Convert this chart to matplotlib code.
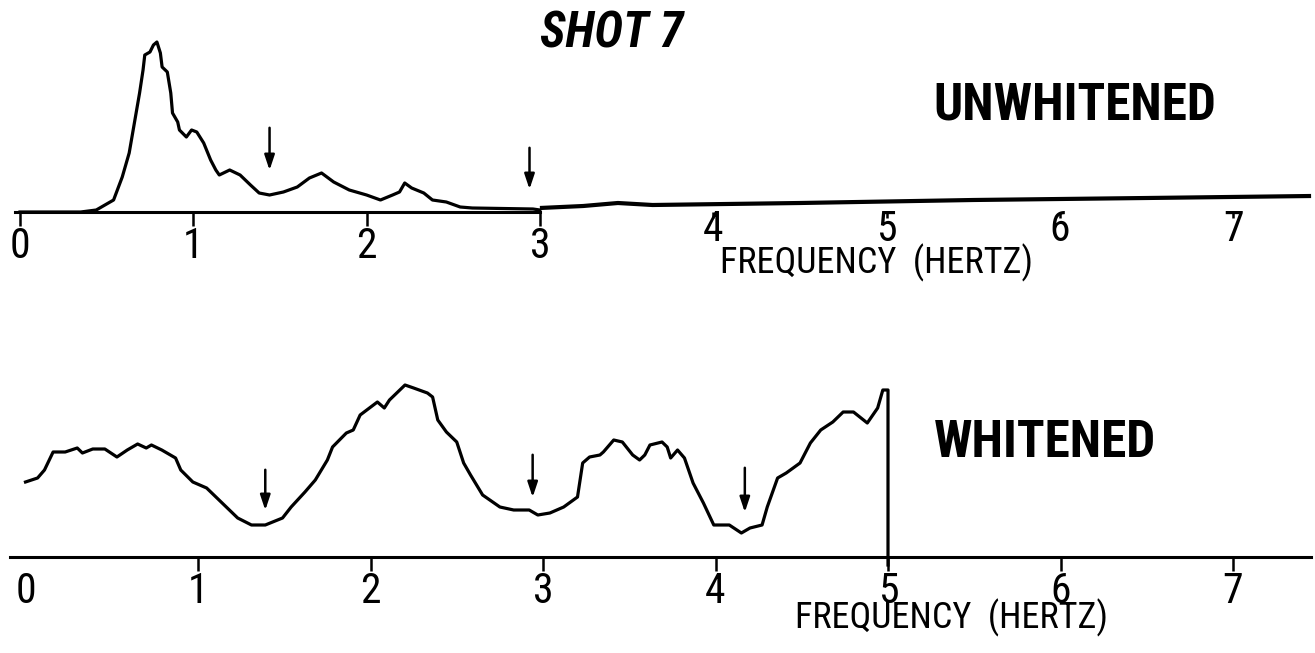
import matplotlib
matplotlib.use("Agg")
import matplotlib.pyplot as plt
from matplotlib import font_manager as fm

avail = {f.name for f in fm.fontManager.ttflist}
NARROW = next((n for n in ["Roboto Condensed", "Liberation Sans Narrow", "Archivo Narrow"] if n in avail), "Liberation Sans")

# ---------------- data ----------------
tick_values = [0, 1, 2, 3, 4, 5, 6, 7]
tick_labels = ["0", "1", "2", "3", "4", "5", "6", "7"]

# UNWHITENED spectrum (frequency in Hz, relative amplitude)
unw_freq = [0.00, 0.35, 0.44, 0.54, 0.59, 0.63, 0.66, 0.68, 0.69, 0.71, 0.72, 0.75, 0.77,
            0.79, 0.81, 0.82, 0.85, 0.87, 0.88, 0.91, 0.92, 0.96, 0.99, 1.02, 1.06, 1.10,
            1.13, 1.15, 1.21, 1.27, 1.33, 1.38, 1.44, 1.52, 1.60, 1.67, 1.74, 1.81, 1.90,
            2.00, 2.08, 2.15, 2.19, 2.22, 2.26, 2.33, 2.38, 2.46, 2.54, 2.61, 2.96, 3.00]
unw_amp = [0, 0, 2, 12, 35, 59, 89, 109, 119, 142, 157, 160, 167,
           170, 159, 145, 140, 119, 99, 90, 82, 75, 82, 80, 69, 52,
           42, 37, 42, 37, 27, 19, 17, 20, 25, 34, 39, 30, 22,
           17, 12, 17, 20, 29, 24, 19, 12, 10, 5, 4, 3, 2]
# recorder trace beyond the analysed band
tail_freq = [3.00, 3.25, 3.45, 3.65, 4.5, 5.5, 6.5, 7.45]
tail_amp = [4, 6, 9, 7, 9, 12, 14, 16]
unw_arrow_freq = [1.44, 2.94]
unw_arrow_top = [87, 67]
unw_arrow_bot = [39, 20]

# WHITENED spectrum
wh_freq = [0.00, 0.07, 0.11, 0.16, 0.23, 0.30, 0.33, 0.39, 0.46, 0.53, 0.59, 0.65, 0.70,
           0.73, 0.79, 0.87, 0.90, 0.97, 1.05, 1.14, 1.23, 1.31, 1.39, 1.49, 1.54, 1.62,
           1.68, 1.75, 1.78, 1.86, 1.90, 1.94, 2.04, 2.08, 2.11, 2.20, 2.25, 2.33, 2.36,
           2.39, 2.44, 2.50, 2.54, 2.58, 2.65, 2.75, 2.83, 2.92, 2.97, 3.04, 3.12, 3.20,
           3.23, 3.27, 3.33, 3.35, 3.41, 3.46, 3.52, 3.56, 3.59, 3.62, 3.69, 3.72, 3.74,
           3.78, 3.82, 3.87, 3.93, 3.99, 4.08, 4.15, 4.20, 4.27, 4.30, 4.36, 4.41, 4.49,
           4.55, 4.61, 4.68, 4.74, 4.80, 4.88, 4.94, 4.97, 5.00, 5.00]
wh_amp = [75, 79, 87, 105, 105, 109, 104, 108, 108, 100, 107, 113, 109,
          112, 107, 99, 87, 75, 69, 54, 39, 32, 32, 39, 50, 65,
          77, 97, 110, 124, 127, 142, 155, 149, 157, 172, 169, 164, 160,
          137, 125, 115, 94, 82, 62, 50, 47, 47, 42, 44, 50, 60,
          94, 100, 102, 105, 117, 115, 102, 97, 102, 112, 115, 110, 99,
          107, 99, 74, 54, 32, 32, 24, 29, 32, 50, 79, 84, 94,
          114, 127, 135, 145, 145, 134, 149, 167, 167, -8]
wh_arrow_freq = [1.39, 2.94, 4.17]
wh_arrow_top = [90, 105, 92]
wh_arrow_bot = [44, 57, 42]

# ---------------- figure ----------------
W, H = 1315, 653
fig = plt.figure(figsize=(W / 100, H / 100), dpi=100)
fig.patch.set_facecolor("white")


def fx(px):
    return px / W


def fy(py):
    return 1 - py / H


LW = 2.3
FAM = [NARROW, "DejaVu Sans"]
tick_font = dict(family=FAM, size=30)
ARROW = dict(arrowstyle="-|>,head_length=0.9,head_width=0.3", color="black", lw=1.8)

# Top axes: pixel rows 0..300, baseline at row 212; 0 Hz at px 20, 173.3 px/Hz
ax1 = fig.add_axes([0, fy(300), 1, 300 / H])
ax1.set_xlim(-20 / 173.3, (W - 20) / 173.3)
ax1.set_ylim(212 - 300, 212)
ax1.plot(unw_freq, unw_amp, color="black", lw=LW, solid_joinstyle="round")
ax1.plot(tail_freq, tail_amp, color="black", lw=3.0, solid_capstyle="butt")
for f, t, b in zip(unw_arrow_freq, unw_arrow_top, unw_arrow_bot):
    ax1.annotate("", xy=(f, b), xytext=(f, t), arrowprops=ARROW)

# Bottom axes: pixel rows 320..653, baseline at row 557; 0 Hz at px 25.5, 172.5 px/Hz
ax2 = fig.add_axes([0, 0, 1, (H - 320) / H])
ax2.set_xlim(-25.5 / 172.5, (W - 25.5) / 172.5)
ax2.set_ylim(557 - 653, 557 - 320)
ax2.plot(wh_freq, wh_amp, color="black", lw=LW, solid_joinstyle="round")
for f, t, b in zip(wh_arrow_freq, wh_arrow_top, wh_arrow_bot):
    ax2.annotate("", xy=(f, b), xytext=(f, t), arrowprops=ARROW)

for ax, lo, hi in [(ax1, -0.03, 3.0), (ax2, -0.09, 7.45)]:
    ax.set_facecolor("none")
    for s in ["top", "left", "right"]:
        ax.spines[s].set_visible(False)
    ax.spines["bottom"].set_position(("data", 0))
    ax.spines["bottom"].set_bounds(lo, hi)
    ax.spines["bottom"].set_linewidth(2.2)
    ax.set_yticks([])

# top axis: 0-3 below the baseline; 4-7 hang from the slightly rising trace
ax1.set_xticks(tick_values[:4])
ax1.set_xticklabels(tick_labels[:4], **tick_font)
ax1.set_xticks(tick_values[4:], minor=True)
ax1.set_xticklabels(tick_labels[4:], minor=True, **tick_font)
ax1.tick_params(axis="x", which="major", direction="out", length=10, width=1.8, pad=0)
ax1.tick_params(axis="x", which="minor", direction="out", length=4, width=1.8, pad=-6)

ax2.set_xticks(tick_values)
ax2.set_xticklabels(tick_labels, **tick_font)
ax2.tick_params(axis="x", direction="out", length=10, width=1.8, pad=0)
# no tick mark under the "0" of the whitened axis
ax2.xaxis.get_major_ticks()[0].tick1line.set_visible(False)

fig.text(fx(612), fy(34), "SHOT 7", ha="center", va="center", fontsize=35,
         fontweight="bold", fontstyle="italic", family=FAM)
fig.text(fx(1075), fy(106), "UNWHITENED", ha="center", va="center", fontsize=37,
         fontweight="bold", family=FAM)
fig.text(fx(1045), fy(443), "WHITENED", ha="center", va="center", fontsize=37,
         fontweight="bold", family=FAM)
fig.text(fx(876), fy(263), "FREQUENCY  (HERTZ)", ha="center", va="center", fontsize=26,
         family=FAM)
fig.text(fx(952), fy(618), "FREQUENCY  (HERTZ)", ha="center", va="center", fontsize=26,
         family=FAM)

fig.savefig("out.png", dpi=100, facecolor="white")
